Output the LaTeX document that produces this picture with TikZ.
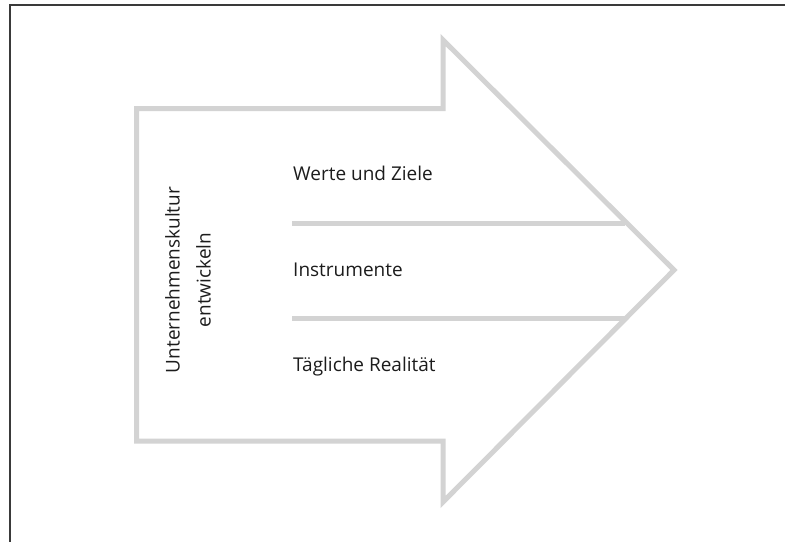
\documentclass[tikz,border=0pt]{standalone}
\usepackage{fontspec}
\setmainfont{Open Sans}
\definecolor{arrowgray}{HTML}{D3D3D3}
\definecolor{txtgray}{HTML}{1C1C1C}
\definecolor{framegray}{HTML}{3A3A3A}
\tikzset{
  bigarrow/.style={draw=arrowgray, line width=5pt, line join=miter},
  divider/.style={draw=arrowgray, line width=5pt},
  frameline/.style={draw=framegray, line width=1.6pt},
  lbl/.style={text=txtgray, font=\fontsize{19}{28}\selectfont, inner sep=0pt, anchor=base west},
  sidelbl/.style={text=txtgray, font=\fontsize{19}{31}\selectfont, inner sep=0pt, align=center, rotate=90}
}
\begin{document}
\begin{tikzpicture}[x=1pt,y=-1pt]
\useasboundingbox (0,0) rectangle (785,542);
% frame
\coordinate (fTL) at (10,5);
\coordinate (fTR) at (785,5);
\coordinate (fBL) at (10,542);
\draw[frameline] (fTR) -- (fTL) -- (fBL);
% arrow
\coordinate (a1) at (136.5,108.5);
\coordinate (a2) at (443,108.5);
\coordinate (a3) at (443,40);
\coordinate (tip) at (674,270);
\coordinate (a5) at (443,502);
\coordinate (a6) at (443,441);
\coordinate (a7) at (136.5,441);
\draw[bigarrow] (a1) -- (a2) -- (a3) -- (tip) -- (a5) -- (a6) -- (a7) -- cycle;
% dividers
\coordinate (d1s) at (292,223.5);
\coordinate (d1e) at (625,223.5);
\coordinate (d2s) at (292,318);
\coordinate (d2e) at (625,318);
\draw[divider] (d1s) -- (d1e);
\draw[divider] (d2s) -- (d2e);
% labels
\node[lbl] (werte) at (293,180) {Werte und Ziele};
\node[lbl] (instr) at (293,276) {Instrumente};
\node[lbl] (taeg) at (293,371.5) {Tägliche Realität};
\node[sidelbl] (side) at (188,280) {Unternehmenskultur\\entwickeln};
\end{tikzpicture}
\end{document}
